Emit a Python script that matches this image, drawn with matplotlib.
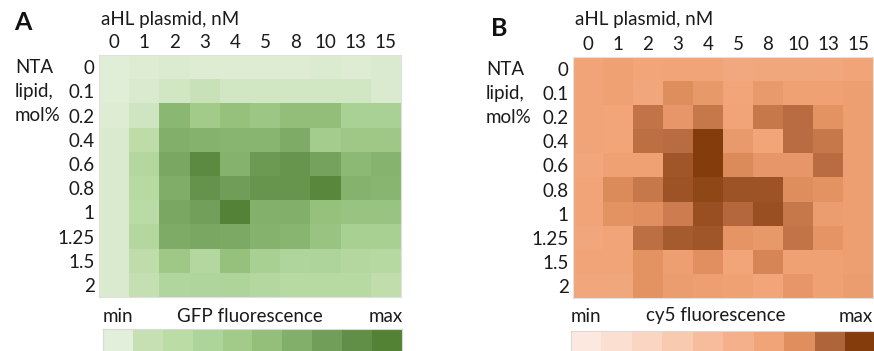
import numpy as np
import matplotlib
matplotlib.use("Agg")
import matplotlib.pyplot as plt
from matplotlib.colors import LinearSegmentedColormap, ListedColormap

plt.rcParams['font.family'] = ['Lato', 'DejaVu Sans']

plasmid_nM = ["0", "1", "2", "3", "4", "5", "8", "10", "13", "15"]
nta_mol = ["0", "0.1", "0.2", "0.4", "0.6", "0.8", "1", "1.25", "1.5", "2"]

# relative signal on a 0..9 scale (min..max)
gfp = np.array([
    [0.1, 0.2, 0.25, 0.2, 0.2, 0.2, 0.2, 0.25, 0.2, 0.3],
    [0.1, 0.3, 0.6, 0.9, 0.6, 0.6, 0.6, 0.6, 0.6, 0.3],
    [0.2, 0.7, 5.5, 4.0, 4.8, 4.4, 5.0, 5.0, 3.3, 3.3],
    [0.3, 1.8, 6.0, 5.8, 5.6, 5.6, 6.2, 3.8, 4.2, 4.2],
    [0.3, 2.6, 6.4, 8.3, 5.8, 7.3, 7.6, 6.7, 5.4, 5.7],
    [0.3, 2.3, 6.1, 7.7, 7.0, 7.6, 7.6, 8.6, 5.8, 5.6],
    [0.3, 2.1, 6.4, 6.9, 8.9, 5.9, 6.0, 4.8, 4.6, 4.6],
    [0.3, 2.6, 6.2, 6.4, 6.3, 5.8, 5.6, 4.6, 3.4, 3.4],
    [0.3, 1.7, 4.2, 2.6, 4.8, 3.4, 2.8, 2.9, 2.5, 2.4],
    [0.3, 1.2, 2.7, 2.8, 2.9, 2.6, 2.3, 2.3, 2.3, 1.6],
])

cy5 = np.array([
    [6.0, 6.1, 5.9, 6.0, 6.0, 5.6, 5.7, 5.7, 5.8, 6.0],
    [6.0, 6.1, 5.8, 7.0, 6.5, 5.9, 6.4, 6.1, 6.1, 6.2],
    [6.0, 5.9, 7.6, 6.6, 7.5, 6.0, 7.5, 7.8, 6.8, 6.2],
    [6.0, 5.9, 7.7, 7.8, 9.0, 6.4, 5.9, 7.8, 7.5, 6.2],
    [5.8, 6.1, 6.1, 8.3, 9.3, 7.1, 6.6, 6.6, 7.8, 6.2],
    [6.0, 7.1, 7.5, 8.4, 8.7, 8.4, 8.4, 7.0, 6.8, 6.2],
    [6.0, 6.8, 6.9, 7.4, 8.5, 7.9, 8.5, 7.5, 6.3, 6.2],
    [5.8, 6.0, 7.7, 8.2, 8.3, 6.7, 6.5, 7.6, 6.7, 6.2],
    [6.0, 6.0, 6.8, 6.2, 6.9, 5.9, 7.2, 6.1, 6.1, 6.2],
    [5.8, 5.7, 6.8, 6.3, 6.2, 6.1, 5.9, 6.6, 6.1, 6.3],
])

green_steps = ["#e2efda", "#c6e0b4", "#bcdca6", "#add49a", "#a2cb8a",
               "#93bf7a", "#82b06a", "#719f59", "#628f48", "#548235"]
orange_steps = ["#fce8df", "#fbe0d2", "#fad6c2", "#f8cbb0", "#f6bc9c",
                "#f4b08a", "#f1a477", "#e08e5e", "#b0643a", "#843c0c"]

W, H = 874, 351
fig = plt.figure(figsize=(W / 100, H / 100), dpi=100)


def px_axes(x0, y0, x1, y1):
    return fig.add_axes([x0 / W, 1 - y1 / H, (x1 - x0) / W, (y1 - y0) / H])


FS = 13.5
TXT = '#1a1a1a'


def panel(letter, data, steps, hm_box, cb_box, label, lx, letter_xy, left_lbl_x, cb_title_x):
    cmap = LinearSegmentedColormap.from_list(label, steps)
    ax = px_axes(*hm_box)
    ax.imshow(data, cmap=cmap, vmin=0, vmax=9, aspect='auto', interpolation='nearest')
    ax.set_xticks(range(len(plasmid_nM)))
    ax.set_xticklabels(plasmid_nM, fontsize=FS)
    ax.set_yticks(range(len(nta_mol)))
    ax.set_yticklabels(nta_mol, fontsize=FS)
    ax.xaxis.tick_top()
    ax.tick_params(length=0, pad=3, colors=TXT)
    for s in ax.spines.values():
        s.set_color('#e0e0e0')
        s.set_linewidth(0.8)

    x0, y0, x1, y1 = hm_box
    fig.text(x0 / W + 0.002, 1 - 19 / H, "aHL plasmid, nM", fontsize=FS,
             ha='left', va='center', color=TXT)
    for i, t in enumerate(["NTA", "lipid,", "mol%"]):
        yc = y0 + (i + 0.5) * (y1 - y0) / 10
        fig.text(left_lbl_x / W, 1 - yc / H, t, fontsize=FS, ha='left',
                 va='center', color=TXT)
    fig.text(letter_xy[0] / W, 1 - letter_xy[1] / H, letter, fontsize=18,
             fontweight='bold', ha='left', va='center', color='#111111')

    cax = px_axes(*cb_box)
    cax.imshow(np.arange(10)[None, :], cmap=ListedColormap(steps), aspect='auto',
               interpolation='nearest')
    cax.set_xticks([])
    cax.set_yticks([])
    for s in cax.spines.values():
        s.set_color('#d9d9d9')
        s.set_linewidth(0.8)
    cx0, cy0, cx1, cy1 = cb_box
    ty = 1 - 316 / H
    fig.text(cx0 / W, ty, "min", fontsize=FS, ha='left', va='center', color=TXT)
    fig.text(cb_title_x / W, ty, label, fontsize=FS, ha='center', va='center', color=TXT)
    fig.text(lx / W, ty, "max", fontsize=FS, ha='right', va='center', color=TXT)


panel("A", gfp, green_steps, (99, 55, 401, 297), (103, 329, 402, 362),
      "GFP fluorescence", 403, (14, 22), 15, 250)
panel("B", cy5, orange_steps, (573, 57, 873, 298), (571, 331, 876, 362),
      "cy5 fluorescence", 873, (491, 28), 486, 716)

fig.savefig("out.png", dpi=100)
